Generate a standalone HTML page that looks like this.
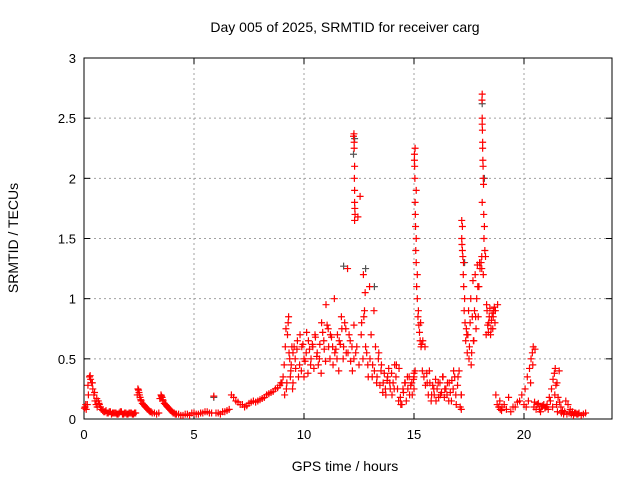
<!DOCTYPE html>
<html><head><meta charset="utf-8"><style>
body{margin:0;background:#fff;}
svg{display:block;font-family:"Liberation Sans",sans-serif;}
</style></head><body>
<svg id="chart" width="640" height="480">
<rect width="640" height="480" fill="#fff"/>
<text x="345" y="32" font-size="14" text-anchor="middle">Day 005 of 2025, SRMTID for receiver carg</text>
<text x="345" y="471" font-size="14" text-anchor="middle">GPS time / hours</text>
<text x="18" y="238" font-size="14" text-anchor="middle" transform="rotate(-90 18 238)">SRMTID / TECUs</text>
<g id="grid"></g><g id="axes"></g><g id="pts"></g>
</svg>
<script>
const xTicks=[0,5,10,15,20];
const yTicks=[0,0.5,1,1.5,2,2.5,3];
const yTickLabels=["0","0.5","1","1.5","2","2.5","3"];
const redT=[0.05,0.1,0.15,0.2,0.25,0.3,0.35,0.4,0.45,0.5,0.55,0.6,0.65,0.7,0.8,0.9,1.0,1.1,1.2,1.3,1.4,1.5,1.6,1.7,1.8,1.9,2.0,2.1,2.2,2.3,2.45,2.5,2.55,2.6,2.7,2.8,2.9,3.0,3.1,3.2,3.4,3.5,3.55,3.6,3.7,3.8,3.9,4.0,4.1,4.2,4.4,4.6,4.8,5.0,5.2,5.4,5.6,5.8,6.0,6.2,6.4,6.6,6.7,6.9,7.1,7.3,7.5,7.7,7.9,8.1,8.3,8.5,8.7,8.9,9.0,9.1,9.15,9.2,9.25,9.3,9.35,9.4,9.45,9.5,9.5,9.6,9.7,9.8,9.9,10.0,10.0,10.1,10.2,10.3,10.4,10.5,10.6,10.7,10.8,10.9,11.0,11.1,11.2,11.3,11.4,11.5,11.6,11.7,11.8,11.9,12.0,12.1,12.2,12.25,12.3,12.3,12.35,12.4,12.5,12.6,12.7,12.75,12.8,12.9,13.0,13.1,13.2,13.3,13.4,13.5,13.6,13.7,13.8,13.9,14.0,14.1,14.2,14.3,14.4,14.5,14.6,14.7,14.8,14.9,15.0,15.05,15.05,15.1,15.1,15.15,15.2,15.3,15.4,15.5,15.6,15.7,15.8,15.9,16.0,16.1,16.2,16.3,16.4,16.5,16.6,16.7,16.8,16.9,17.0,17.1,17.15,17.2,17.25,17.3,17.4,17.5,17.6,17.7,17.8,17.9,18.0,18.05,18.1,18.1,18.15,18.2,18.3,18.4,18.5,18.6,18.7,18.8,18.9,19.0,19.2,19.4,19.6,19.8,20.0,20.1,20.2,20.3,20.4,20.5,20.6,20.7,20.8,20.9,21.0,21.1,21.2,21.3,21.4,21.5,21.6,21.7,21.8,21.9,22.0,22.1,22.2,22.3,22.4,22.5,22.6,22.7,22.8,
0.02,0.08,0.18,0.28,0.38,0.48,0.58,0.68,0.75,0.85,0.95,1.05,1.15,1.25,1.35,1.45,1.55,1.65,1.75,1.85,1.95,2.05,2.15,2.25,2.35,2.42,2.48,2.52,2.58,2.65,2.75,2.85,2.95,3.05,3.3,3.45,3.52,3.58,3.65,3.75,3.85,3.95,4.05,4.15,4.3,4.5,4.7,4.9,5.1,5.3,5.5,5.7,5.9,6.1,6.3,6.5,6.8,7.0,7.2,7.4,7.6,7.8,8.0,8.2,8.4,8.6,8.8,8.95,9.05,9.12,9.18,9.22,9.28,9.32,9.38,9.42,9.48,9.55,9.62,9.68,9.75,9.82,9.88,9.95,10.05,10.12,10.18,10.25,10.32,10.38,10.45,10.52,10.58,10.65,10.72,10.78,10.85,10.92,10.98,11.05,11.12,11.18,11.25,11.32,11.38,11.45,11.52,11.58,11.65,11.72,11.78,11.85,11.92,11.98,12.05,12.12,12.18,
12.27,12.27,12.27,12.28,12.28,12.29,12.3,12.3,12.31,12.32,12.45,12.55,12.62,12.68,12.72,12.78,12.85,12.92,12.98,13.05,13.12,13.18,13.25,13.32,13.38,13.45,13.52,13.58,13.65,13.72,13.78,13.85,13.92,13.98,14.05,14.12,14.18,14.25,14.32,14.38,14.45,14.52,14.58,14.65,14.72,14.78,14.85,14.92,14.98,
15.0,15.0,15.02,15.02,15.03,15.04,15.05,15.06,15.07,15.08,15.1,15.12,15.15,15.18,15.22,15.25,15.28,15.32,15.35,15.38,15.45,15.52,15.58,15.65,15.72,15.78,15.85,15.92,15.98,16.05,16.12,16.18,16.25,16.32,16.38,16.45,16.52,16.58,16.65,16.72,16.78,16.85,16.92,16.98,17.05,
17.15,17.15,17.17,17.17,17.18,17.2,17.22,17.24,17.26,17.28,17.32,17.35,17.38,17.42,17.45,17.48,17.52,17.55,17.58,17.62,17.65,17.68,17.72,17.75,17.78,17.82,17.85,17.88,17.92,17.95,17.98,
18.08,18.08,18.09,18.1,18.1,18.11,18.12,18.12,18.13,18.14,18.15,18.16,18.17,18.18,18.22,18.25,18.28,18.32,18.35,18.38,18.42,18.45,18.48,18.52,18.55,18.58,18.62,18.65,18.68,18.72,18.78,18.85,18.92,18.98,19.1,19.3,19.5,19.7,19.9,20.05,20.15,20.25,20.32,20.38,20.42,20.45,20.48,20.55,20.65,20.75,20.85,20.95,21.05,21.15,21.25,21.32,21.38,21.42,21.45,21.48,21.52,21.55,21.62,21.68,21.75,21.85,21.95,22.05,22.15,22.25,22.35,22.45,22.55,22.65,22.75,22.85];
const redV=[0.1,0.08,0.12,0.2,0.35,0.33,0.3,0.25,0.2,0.15,0.12,0.1,0.15,0.12,0.08,0.06,0.07,0.05,0.06,0.05,0.05,0.04,0.05,0.06,0.04,0.05,0.04,0.05,0.04,0.05,0.25,0.22,0.18,0.15,0.12,0.1,0.08,0.06,0.05,0.05,0.05,0.2,0.18,0.15,0.12,0.1,0.08,0.06,0.05,0.04,0.03,0.04,0.03,0.05,0.04,0.05,0.06,0.05,0.05,0.04,0.06,0.08,0.2,0.15,0.12,0.1,0.13,0.15,0.15,0.17,0.2,0.22,0.25,0.28,0.3,0.45,0.6,0.25,0.7,0.85,0.5,0.4,0.6,0.3,0.55,0.5,0.65,0.45,0.6,0.5,0.35,0.55,0.65,0.45,0.6,0.7,0.55,0.5,0.8,0.65,0.95,0.75,0.7,0.6,0.55,0.5,0.65,0.85,0.6,0.75,0.55,0.65,0.4,2.35,2.1,1.65,0.55,0.6,0.45,0.7,1.2,0.9,0.6,0.45,0.5,0.35,0.4,0.3,0.55,0.4,0.3,0.25,0.35,0.3,0.2,0.25,0.45,0.15,0.12,0.25,0.3,0.35,0.2,0.3,0.35,0.4,2.25,1.9,1.5,1.2,0.9,0.8,0.65,0.6,0.3,0.4,0.2,0.25,0.15,0.3,0.2,0.35,0.25,0.2,0.3,0.15,0.4,0.2,0.35,0.1,0.2,1.6,1.3,1.0,0.7,0.5,0.45,0.65,0.85,1.1,1.25,1.3,2.7,1.8,1.2,1.6,0.95,0.8,0.75,0.85,0.9,0.95,0.15,0.1,0.08,0.06,0.1,0.15,0.12,0.1,0.15,0.3,0.45,0.58,0.12,0.08,0.1,0.12,0.1,0.08,0.15,0.1,0.2,0.3,0.4,0.05,0.04,0.15,0.12,0.08,0.06,0.05,0.04,0.05,0.03,0.04,0.05,
0.09,0.12,0.28,0.36,0.3,0.22,0.17,0.13,0.1,0.07,0.06,0.05,0.06,0.04,0.05,0.05,0.04,0.06,0.04,0.05,0.04,0.05,0.05,0.04,0.05,0.2,0.24,0.2,0.16,0.13,0.11,0.09,0.07,0.06,0.04,0.17,0.19,0.16,0.13,0.11,0.09,0.07,0.05,0.04,0.04,0.03,0.04,0.05,0.04,0.05,0.06,0.05,0.19,0.05,0.06,0.07,0.18,0.14,0.12,0.11,0.14,0.14,0.16,0.18,0.21,0.23,0.26,0.3,0.35,0.2,0.75,0.3,0.8,0.55,0.35,0.45,0.25,0.6,0.42,0.58,0.35,0.7,0.4,0.62,0.48,0.72,0.38,0.58,0.5,0.62,0.42,0.68,0.52,0.45,0.62,0.38,0.72,0.58,0.48,0.78,0.6,0.5,0.68,0.45,1.0,0.58,0.7,0.4,0.62,0.75,0.5,0.8,0.55,1.25,0.7,0.48,0.6,0.78,0.5,
2.37,2.3,2.25,2.0,1.9,1.8,1.75,1.7,1.68,1.85,0.8,0.5,0.85,1.05,0.55,0.35,1.1,0.7,0.45,0.9,0.6,0.35,0.5,0.28,0.45,0.22,0.38,0.2,0.32,0.42,0.25,0.38,0.3,0.45,0.35,0.25,0.42,0.18,0.12,0.22,0.3,0.15,0.25,0.35,0.28,0.2,0.33,0.25,0.38,
2.2,2.15,2.1,2.0,1.8,1.7,1.6,1.4,1.3,1.1,1.0,0.85,0.78,0.72,0.65,0.6,0.62,0.4,0.35,0.28,0.38,0.2,0.3,0.15,0.28,0.2,0.33,0.25,0.18,0.3,0.22,0.35,0.18,0.25,0.3,0.15,0.22,0.32,0.25,0.35,0.12,0.28,0.4,0.2,0.08,
1.65,1.5,1.45,1.4,1.35,1.2,1.1,0.9,0.8,0.65,0.75,0.55,0.7,0.9,0.6,0.8,1.0,0.55,0.85,1.15,0.65,0.9,1.2,0.75,1.0,1.28,0.85,1.1,1.3,1.25,1.35,
2.65,2.5,2.45,2.4,2.3,2.25,2.15,2.1,2.0,1.95,1.7,1.5,1.4,1.35,0.7,0.9,0.78,0.72,0.85,0.92,0.7,0.82,0.88,0.75,0.9,0.93,0.8,0.2,0.12,0.1,0.08,0.07,0.12,0.18,0.1,0.14,0.2,0.25,0.35,0.42,0.5,0.55,0.6,0.1,0.14,0.08,0.13,0.06,0.11,0.09,0.12,0.18,0.25,0.33,0.38,0.42,0.28,0.12,0.06,0.18,0.14,0.1,0.07,0.06,0.04,0.05,0.04,0.03,0.05,0.04];
const grayT=[5.9,11.8,12.25,12.3,12.8,13.2,17.3,18.1,18.2];
const grayV=[0.18,1.27,2.2,2.33,1.25,1.1,1.3,2.62,2.0];
const L=84,R=612,T=58,B=419,NS="http://www.w3.org/2000/svg";
const xs=v=>L+v/24*(R-L), ys=v=>B-v/3*(B-T);
function mk(tag,a,p){const e=document.createElementNS(NS,tag);for(const k in a)e.setAttribute(k,a[k]);p.appendChild(e);return e;}
const grid=document.getElementById('grid'),axes=document.getElementById('axes'),pts=document.getElementById('pts');
xTicks.forEach(t=>{const x=xs(t);
 if(t>0){const g=mk('line',{x1:x,x2:x,y1:T,y2:B,stroke:'#a0a0a0','stroke-dasharray':'2,3'},grid);
 }
 mk('line',{x1:x,x2:x,y1:B,y2:B-6,stroke:'#000'},axes);mk('line',{x1:x,x2:x,y1:T,y2:T+6,stroke:'#000'},axes);
 const l=mk('text',{x:x,y:B+20,'font-size':13,'text-anchor':'middle'},axes);l.textContent=t;
 });
yTicks.forEach((t,i)=>{const y=ys(t);
 if(t>0&&t<3){const g=mk('line',{x1:L,x2:R,y1:y,y2:y,stroke:'#a0a0a0','stroke-dasharray':'2,3'},grid);
 }
 mk('line',{x1:L,x2:L+6,y1:y,y2:y,stroke:'#000'},axes);mk('line',{x1:R,x2:R-6,y1:y,y2:y,stroke:'#000'},axes);
 const l=mk('text',{x:L-8,y:y+5,'font-size':13,'text-anchor':'end'},axes);l.textContent=yTickLabels[i];
 });
const fr=mk('rect',{x:L,y:T,width:R-L,height:B-T,fill:'none',stroke:'#000'},axes);

function plus(t,v,c){const x=xs(t),y=ys(v);
 const p=mk('path',{d:`M${x-3.5},${y}H${x+3.5}M${x},${y-3.5}V${y+3.5}`,stroke:c,'stroke-width':1.2},pts);
 }
grayT.forEach((t,i)=>plus(t,grayV[i],'#555'));
redT.forEach((t,i)=>plus(t,redV[i],'#ff0000'));
</script>
</body></html>
